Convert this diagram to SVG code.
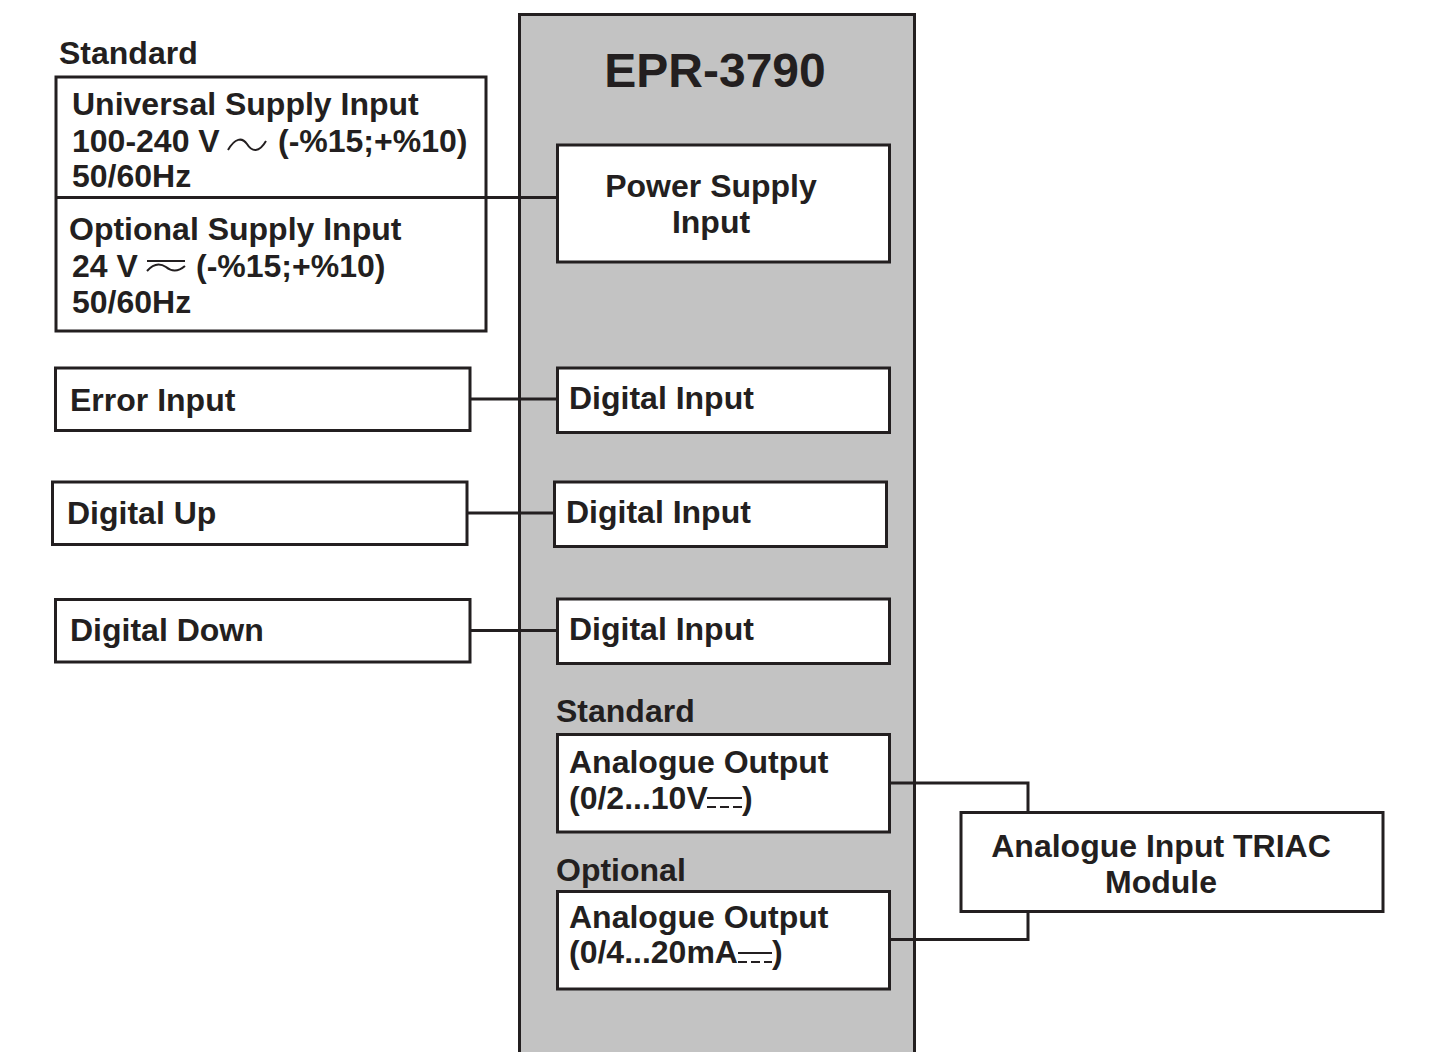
<svg xmlns="http://www.w3.org/2000/svg" width="1443" height="1052" viewBox="0 0 1443 1052">
<style>
.box{fill:#fff;stroke:#231f20;stroke-width:3}
.main{fill:#c3c3c3;stroke:#231f20;stroke-width:3}
.ln{fill:none;stroke:#231f20;stroke-width:3}
.sym{fill:none;stroke:#231f20;stroke-width:2}
text{font-family:"Liberation Sans",Arial,Helvetica,sans-serif;font-weight:bold;font-size:32px;fill:#231f20}
.c{text-anchor:middle}
.big{font-size:48px}
</style>
<rect width="1443" height="1052" fill="#fff"/>
<g id="epr3790">
<rect class="main" x="519.5" y="14.5" width="395" height="1050"/>
<text class="big c" x="715" y="87">EPR-3790</text>
</g>
<g id="connectors">
<line class="ln" x1="486" y1="197.5" x2="557" y2="197.5"/>
<line class="ln" x1="470" y1="399" x2="557" y2="399"/>
<line class="ln" x1="467" y1="513" x2="554" y2="513"/>
<line class="ln" x1="470" y1="630.5" x2="557" y2="630.5"/>
<polyline class="ln" points="889,783 1028,783 1028,812"/>
<polyline class="ln" points="889,939.5 1028,939.5 1028,911"/>
</g>
<g id="supply-inputs">
<text x="59" y="64">Standard</text>
<rect class="box" x="56" y="77" width="430" height="254"/>
<line class="ln" x1="56" y1="197.5" x2="486" y2="197.5"/>
<text x="72" y="115">Universal Supply Input</text>
<text x="72" y="152">100-240 V<tspan x="278">(-%15;+%10)</tspan></text>
<path class="sym" d="M228,150 C235,138 242,137 247,144 C252,152 259,153 266,141"/>
<text x="72" y="187">50/60Hz</text>
<text x="69" y="240">Optional Supply Input</text>
<text x="72" y="277">24 V<tspan x="196">(-%15;+%10)</tspan></text>
<line class="sym" x1="147" y1="261" x2="185" y2="261"/>
<path class="sym" d="M147,271 C154,263 160,263 166,267 C172,272 178,272 185,266"/>
<text x="72" y="313">50/60Hz</text>
</g>
<g id="power-supply-input">
<rect class="box" x="557.5" y="145" width="332" height="117"/>
<text class="c" x="711" y="197">Power Supply</text>
<text class="c" x="711" y="233">Input</text>
</g>
<g id="error-input">
<rect class="box" x="55.5" y="368" width="414.5" height="62.5"/>
<text x="70" y="411">Error Input</text>
</g>
<g id="digital-input-1">
<rect class="box" x="557.5" y="368" width="332" height="64.5"/>
<text x="569" y="409">Digital Input</text>
</g>
<g id="digital-up">
<rect class="box" x="52.5" y="482" width="414.5" height="62.5"/>
<text x="67" y="524">Digital Up</text>
</g>
<g id="digital-input-2">
<rect class="box" x="554.5" y="482" width="332" height="64.5"/>
<text x="566" y="523">Digital Input</text>
</g>
<g id="digital-down">
<rect class="box" x="55.5" y="599.5" width="414.5" height="62.5"/>
<text x="70" y="641">Digital Down</text>
</g>
<g id="digital-input-3">
<rect class="box" x="557.5" y="599" width="332" height="64.5"/>
<text x="569" y="640">Digital Input</text>
</g>
<g id="analogue-output-1">
<text x="556" y="722">Standard</text>
<rect class="box" x="557.5" y="734.5" width="332" height="97.5"/>
<text x="569" y="773">Analogue Output</text>
<text x="569" y="809">(0/2...10V<tspan x="742">)</tspan></text>
<line class="sym" x1="707" y1="798" x2="742" y2="798"/>
<path class="sym" d="M707,807 h9 M720,807 h9 M733,807 h9"/>
</g>
<g id="analogue-output-2">
<text x="556" y="881">Optional</text>
<rect class="box" x="557.5" y="891.5" width="332" height="97.5"/>
<text x="569" y="928">Analogue Output</text>
<text x="569" y="963">(0/4...20mA<tspan x="772">)</tspan></text>
<line class="sym" x1="738" y1="953" x2="772" y2="953"/>
<path class="sym" d="M738,962 h9 M751,962 h9 M764,962 h8"/>
</g>
<g id="triac-module">
<rect class="box" x="961" y="812.5" width="422" height="99"/>
<text class="c" x="1161" y="857">Analogue Input TRIAC</text>
<text class="c" x="1161" y="893">Module</text>
</g>
</svg>
